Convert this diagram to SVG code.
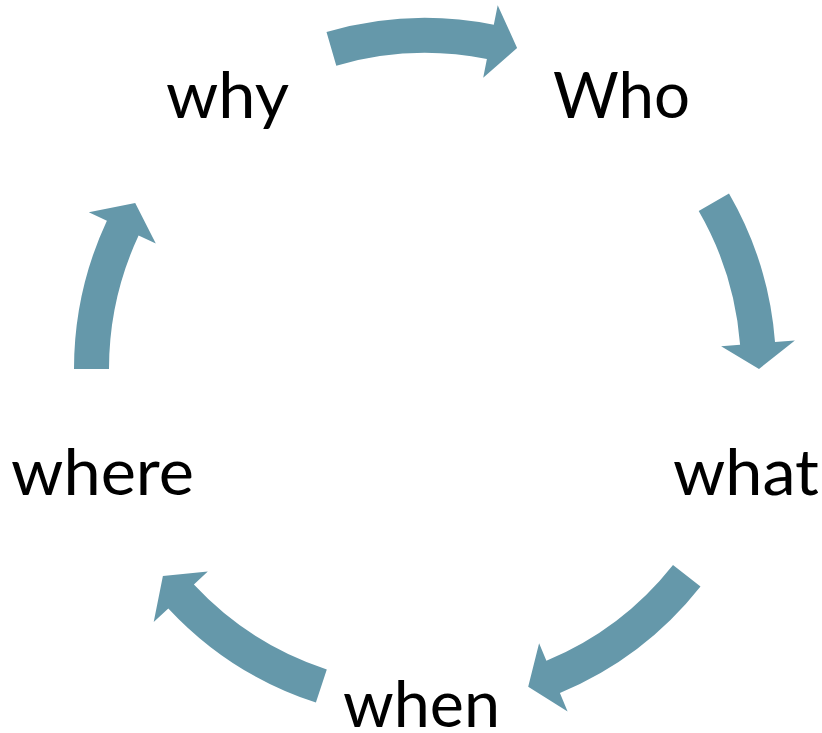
<svg xmlns="http://www.w3.org/2000/svg" width="822" height="733" viewBox="0 0 822 733">
<style>
.arrow{fill:#6598AA;stroke:none}
.lbl{font-family:Lato,"Open Sans","Liberation Sans",sans-serif;font-size:64px;fill:#000000}
</style>
<rect width="822" height="733" fill="#ffffff"/>
<g id="connectors">
<path class="arrow" d="M326.5,32.1 A351,351 0 0 1 493.8,24.8 L497.7,5.2 L517.1,47.9 L483.2,77.8 L486.9,59.1 A316,316 0 0 0 336.3,65.7 Z"/>
<path class="arrow" d="M729,193.5 A351,351 0 0 1 775,342.1 L794.9,340.5 L759,369 L721.1,346.2 L740.1,344.8 A316,316 0 0 0 698.7,211 Z"/>
<path class="arrow" d="M700.5,586.5 A351,351 0 0 1 559.9,693 L567.6,711.5 L528.2,686.7 L539.1,643.2 L546.4,660.7 A316,316 0 0 0 673,564.9 Z"/>
<path class="arrow" d="M315.9,702.6 A351,351 0 0 1 168.3,608.4 L153.7,622 L162.9,576 L207.8,571.6 L193.9,584.5 A316,316 0 0 0 326.8,669.4 Z"/>
<path class="arrow" d="M74,369 A351,351 0 0 1 106.9,220.7 L88.8,212.2 L135.2,203 L155.8,243.5 L138.6,235.5 A316,316 0 0 0 109,369 Z"/>
</g>
<g id="node-who"><text class="lbl" x="553" y="118" textLength="137" lengthAdjust="spacingAndGlyphs">Who</text></g>
<g id="node-what"><text class="lbl" x="673" y="495" textLength="146" lengthAdjust="spacingAndGlyphs">what</text></g>
<g id="node-when"><text class="lbl" x="343" y="727" textLength="157" lengthAdjust="spacingAndGlyphs">when</text></g>
<g id="node-where"><text class="lbl" x="11" y="495" textLength="183" lengthAdjust="spacingAndGlyphs">where</text></g>
<g id="node-why"><text class="lbl" x="166" y="118" textLength="123" lengthAdjust="spacingAndGlyphs">why</text></g>
</svg>
